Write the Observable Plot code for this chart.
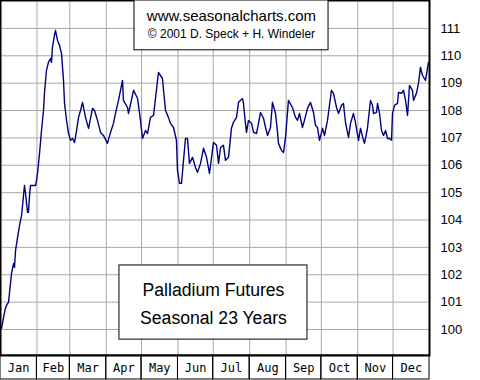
<!DOCTYPE html>
<html>
<head>
<meta charset="utf-8">
<script src="https://cdn.jsdelivr.net/npm/d3@7"></script>
<script src="https://cdn.jsdelivr.net/npm/@observablehq/plot@0.6"></script>
<style>
  html, body { margin: 0; padding: 0; background: white; }
  #chart { width: 480px; height: 380px; }
</style>
</head>
<body>
<div id="chart"></div>
<script>
// Month labels and boundaries (day of year)
const months = ["Jan","Feb","Mar","Apr","May","Jun","Jul","Aug","Sep","Oct","Nov","Dec"];
const monthStart = [0,31,59,90,120,151,181,212,243,273,304,334];
const monthEnd = [31,59,90,120,151,181,212,243,273,304,334,365];
const yTicks = [100,101,102,103,104,105,106,107,108,109,110,111];

// Seasonal pattern: day of year and index value
const day = [0.9,2.6,4.3,6.0,6.8,8.5,9.4,10.2,11.1,11.9,12.8,14.5,16.2,17.9,19.6,20.4,21.3,23.0,23.8,24.7,25.5,28.1,29.8,30.6,31.5,33.2,34.9,36.6,37.4,39.1,40.8,42.5,43.4,44.2,45.9,46.8,48.5,50.2,51.9,53.6,54.5,56.2,57.9,59.6,61.3,63.0,64.7,66.4,68.1,69.8,72.3,74.9,78.3,80.0,82.5,85.1,87.6,91.0,93.6,96.1,97.8,100.4,103.8,104.6,108.1,108.9,113.2,116.6,119.1,120.8,123.4,125.1,127.6,130.2,133.6,134.4,137.8,140.4,142.9,144.6,147.2,149.7,150.6,152.3,154.0,155.7,157.4,159.1,160.8,163.4,165.9,167.6,170.2,172.7,175.3,177.8,181.2,183.8,185.5,187.2,189.7,191.4,194.0,196.5,198.2,200.8,202.5,205.9,206.7,208.4,209.3,211.0,213.6,215.3,217.8,219.5,221.2,223.8,225.5,227.2,229.7,231.4,234.0,235.7,236.5,239.1,240.8,242.5,245.0,248.4,251.0,252.7,254.4,256.9,258.6,261.2,263.7,266.3,268.0,269.7,271.4,274.0,275.7,278.2,279.1,281.6,283.3,285.9,287.6,290.1,291.8,293.5,296.1,297.8,300.3,302.0,304.6,306.3,308.8,309.7,312.2,313.1,314.8,316.5,317.4,319.9,320.8,322.5,324.2,325.9,327.6,329.3,331.0,332.7,333.5,335.2,337.8,338.6,341.2,342.9,344.6,346.3,348.0,350.5,351.4,353.9,355.6,357.3,359.0,361.6,363.3,364.1];
const value = [100.04,100.44,100.80,100.95,100.99,101.68,102.05,102.23,102.41,102.27,102.89,103.36,103.80,104.17,104.90,105.26,104.97,104.28,104.28,104.90,105.26,105.26,105.26,105.45,105.70,106.43,107.27,108.00,108.63,109.47,109.76,109.90,109.76,110.31,110.75,110.93,110.56,110.38,110.09,109.10,108.26,107.64,107.16,106.91,106.98,106.83,107.27,107.75,108.00,108.30,107.75,107.35,108.08,108.00,107.64,107.20,107.09,106.80,107.20,107.53,107.89,108.37,109.10,108.37,108.11,107.89,108.74,108.44,107.64,106.98,107.27,107.16,107.75,107.82,109.10,109.39,109.17,108.00,107.75,107.53,107.38,106.91,105.81,105.34,105.34,106.18,106.98,106.98,106.07,106.29,105.92,105.74,106.07,106.62,106.29,105.70,106.83,106.73,106.07,106.65,106.73,106.18,106.29,107.35,107.57,107.75,108.30,108.44,108.26,107.53,107.20,107.64,107.53,107.20,107.16,107.53,107.93,107.71,107.38,107.09,107.38,108.30,107.89,107.20,106.80,106.54,106.47,107.02,108.37,108.11,107.75,107.64,107.89,107.38,107.64,108.08,108.30,107.93,107.46,107.38,106.91,107.35,107.09,107.64,107.93,108.74,108.63,108.11,107.89,108.19,108.26,107.57,107.02,107.53,107.89,107.57,106.91,107.35,106.91,106.80,107.35,107.71,108.37,108.19,107.89,107.93,108.26,107.89,107.27,107.09,107.27,106.98,106.98,106.91,107.89,108.19,108.26,108.66,108.63,108.74,108.37,107.82,108.92,108.74,108.37,108.63,108.99,109.58,109.28,109.10,109.54,109.76];

const titleLines = ["www.seasonalcharts.com", "© 2001 D. Speck + H. Windeler"];
const boxLines = ["Palladium Futures", "Seasonal 23 Years"];

const data = day.map((d, i) => ({day: d, value: value[i]}));
const monthTable = months.map((m, i) => ({name: m, start: monthStart[i], end: monthEnd[i]}));

const yDomain = [99.05, 112.02];
const unitsPerPx = (yDomain[1] - yDomain[0]) / 355;
const stripBottom = yDomain[0] - 24 * unitsPerPx;
const labelY = yDomain[0] - 13 * unitsPerPx;

const sans = "'Liberation Sans', Arial, sans-serif";

const chart = Plot.plot({
  width: 480,
  height: 380,
  marginLeft: 0,
  marginTop: 0,
  marginRight: 51,
  marginBottom: 25,
  x: {domain: [0, 365], axis: null},
  y: {domain: yDomain, axis: null},
  style: {fontFamily: sans, background: "white", overflow: "visible"},
  marks: [
    Plot.ruleY(yTicks, {stroke: "#a8a8a8", strokeWidth: 1}),
    Plot.ruleX(monthStart.slice(1), {stroke: "#a8a8a8", strokeWidth: 1}),
    Plot.line(data, {x: "day", y: "value", stroke: "#000080", strokeWidth: 1.4}),
    Plot.frame({stroke: "black", strokeWidth: 2}),
    Plot.rect(monthTable, {x1: "start", x2: "end", y1: stripBottom, y2: yDomain[0], stroke: "black", fill: "none"}),
    Plot.text(monthTable, {x: d => (d.start + d.end) / 2, y: labelY, text: "name",
      fontFamily: "'DejaVu Sans Mono', monospace", fontSize: 12, fill: "black"}),
    Plot.text(yTicks, {x: 365, y: d => d, text: d => String(d), dx: 11, textAnchor: "start", fontSize: 13, fill: "black"}),
    // title box
    Plot.rect([0], {x1: 114.0, x2: 279.1, y1: 110.20, y2: yDomain[1], fill: "white", stroke: "black"}),
    Plot.text([titleLines[0]], {x: 196.5, y: 111.43, text: d => d, fontSize: 15, fill: "black"}),
    Plot.text([titleLines[1]], {x: 196.5, y: 110.78, text: d => d, fontSize: 12, fill: "black"}),
    // bottom box
    Plot.rect([0], {x1: 101.2, x2: 261.2, y1: 99.63, y2: 102.34, fill: "white", stroke: "black"}),
    Plot.text([boxLines[0]], {x: 181.2, y: 101.43, text: d => d, fontSize: 17.6, fill: "black"}),
    Plot.text([boxLines[1]], {x: 181.2, y: 100.42, text: d => d, fontSize: 17.6, fill: "black"})
  ]
});
document.getElementById("chart").appendChild(chart);
</script>
</body>
</html>
